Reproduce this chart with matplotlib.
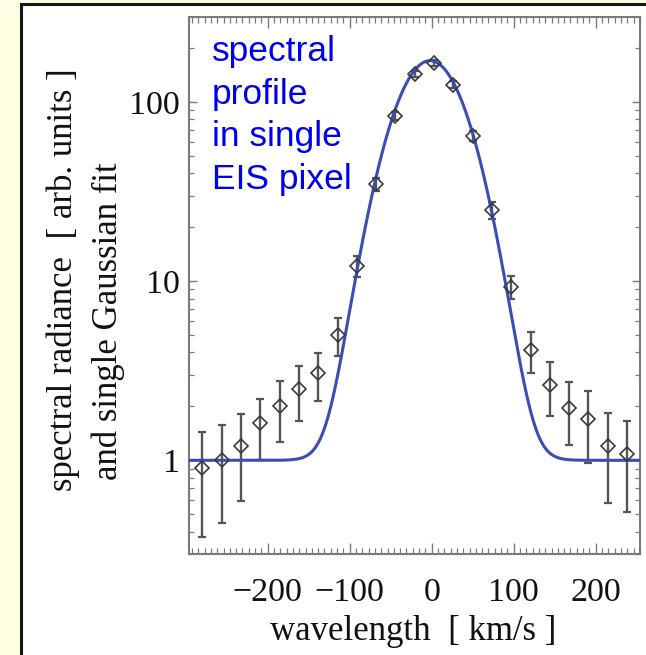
import numpy as np
import matplotlib
matplotlib.use("Agg")
import matplotlib.pyplot as plt
from matplotlib.patches import Rectangle
from matplotlib.ticker import FixedLocator, LogLocator, MultipleLocator, NullFormatter

# DATA
velocity = [-279.6, -256.1, -232.5, -209.0, -185.4, -161.9, -138.4, -114.8,
            -91.3, -67.8, -44.2, -20.7, 2.8, 26.4, 49.9, 73.4, 97.0, 120.5,
            144.1, 167.6, 191.1, 214.7, 238.2]
radiance = [0.905, 1.006, 1.205, 1.61, 2.02, 2.51, 3.06, 5.01, 12.2, 34.7,
            83.7, 143.0, 165.0, 125.0, 64.5, 24.9, 9.32, 4.13, 2.64, 1.97,
            1.70, 1.205, 1.087]
sigma = [0.53, 0.56, 0.61, 0.60, 0.76, 0.86, 0.93, 1.2, 1.6, 3.0, 4.5, 6.0,
         6.5, 5.5, 4.0, 2.6, 1.33, 1.07, 0.88, 0.76, 0.74, 0.63, 0.57]

# single Gaussian fit parameters
fit_background = 1.0
fit_amplitude = 169.0
fit_center = -2.0
fit_width = 37.8

xticks = [-200, -100, 0, 100, 200]
yticks = [1, 10, 100]
ytick_labels = ["1", "10", "100"]

# FIGURE
fig = plt.figure(figsize=(6.46, 6.55), dpi=100, facecolor="#FFFFE3")

# white panel with dark border
panel = Rectangle((21 / 646, -0.2), 1.3, (651 / 655) + 0.2, transform=fig.transFigure,
                  facecolor="white", edgecolor="#151515", linewidth=2.2, zorder=0)
fig.add_artist(panel)

ax = fig.add_axes([189 / 646, 101 / 655, 451 / 646, 537 / 655])
ax.set_facecolor("white")

ax.errorbar(velocity, radiance, yerr=sigma, fmt="none", ecolor="#555555",
            elinewidth=1.7, capsize=3.0, capthick=1.6, zorder=2)

xfit = np.linspace(-300, 260, 600)
yfit = fit_background + fit_amplitude * np.exp(-(xfit - fit_center) ** 2 / (2 * fit_width ** 2))
ax.plot(xfit, yfit, color="#3a4db5", linewidth=2.2, zorder=3)

ax.plot(velocity, radiance, linestyle="none", marker="D", markersize=7.6,
        markerfacecolor="none", markeredgecolor="#3a3a3a", markeredgewidth=1.2, zorder=4)

ax.set_yscale("log")
ax.set_xlim(-296, 254)
ax.set_ylim(0.3, 298)

serif = "Liberation Serif"
ax.xaxis.set_major_locator(FixedLocator(xticks))
ax.xaxis.set_minor_locator(MultipleLocator(100 / 13))
ax.set_xticklabels(["\u2212200", "\u2212100", "0", "100", "200"], fontfamily=serif, fontsize=24.5)
ax.yaxis.set_major_locator(FixedLocator(yticks))
ax.yaxis.set_minor_locator(LogLocator(base=10, subs=np.arange(2, 10)))
ax.yaxis.set_minor_formatter(NullFormatter())
ax.set_yticklabels(ytick_labels, fontfamily=serif, fontsize=24.5)

frame = "#7a7a7a"
for s in ax.spines.values():
    s.set_color(frame)
    s.set_linewidth(1.5)
ax.tick_params(axis="both", which="both", direction="in", top=True, right=True,
               color=frame, labelcolor="#111111")
ax.tick_params(axis="x", which="major", length=7.9, width=1.0, pad=17)
ax.tick_params(axis="x", which="minor", length=4.0, width=0.9)
ax.tick_params(axis="y", which="major", length=6.0, width=1.0, pad=6.5)
ax.tick_params(axis="y", which="minor", length=3.5, width=0.9)

# axis titles
fig.text(413 / 646, (655 - 640) / 655, "wavelength  [ km/s ]", ha="center", va="baseline",
         fontfamily=serif, fontsize=25, color="#111111")
fig.text(63.5 / 646, (655 - 280) / 655, "spectral radiance  [ arb. units ]", rotation=90,
         ha="center", va="center", fontfamily=serif, fontsize=25, color="#111111")
fig.text(108.5 / 646, (655 - 321) / 655, "and single Gaussian fit", rotation=90,
         ha="center", va="center", fontfamily=serif, fontsize=25, color="#111111")

# annotation (baseline of the last line)
fig.text(212 / 646, (655 - 189) / 655, "spectral\nprofile\nin single\nEIS pixel",
         ha="left", va="baseline", fontfamily="Liberation Sans", fontsize=25.5,
         color="#0000F0", linespacing=1.37)

fig.savefig("out.png", dpi=100, facecolor=fig.get_facecolor())
